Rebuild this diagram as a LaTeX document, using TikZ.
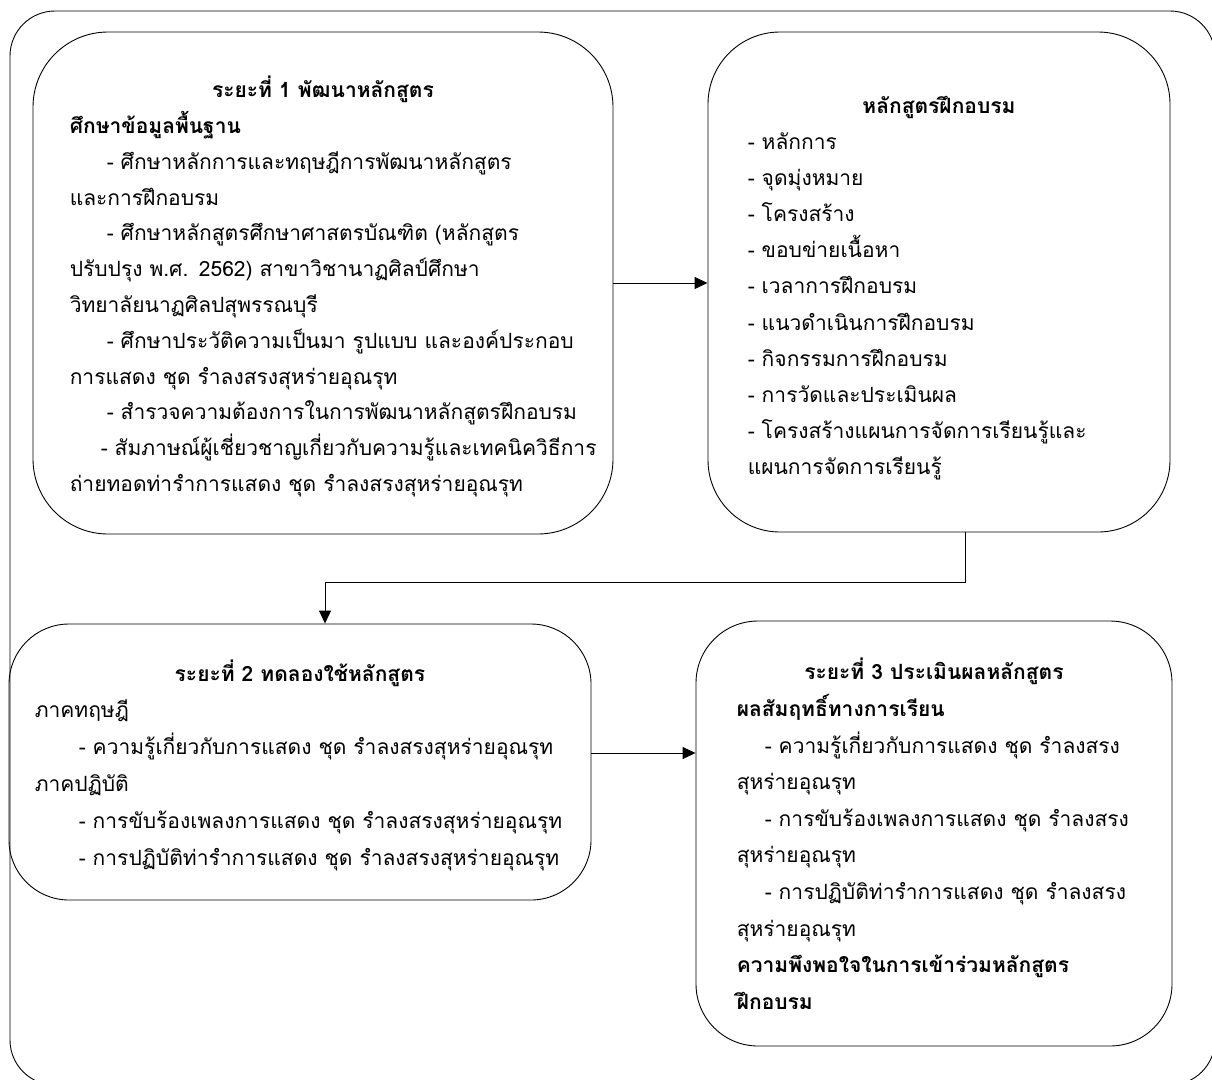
\documentclass[tikz,border=0pt]{standalone}
\usepackage{fontspec}
\setmainfont{Loma}[Script=Thai]
\usetikzlibrary{arrows.meta,positioning}

\tikzset{
  stage/.style={draw, line width=0.9pt, inner sep=0pt},
  heading/.style={anchor=base, inner sep=0pt, font=\fontsize{21}{24}\selectfont\bfseries},
  body/.style={anchor=base west, inner sep=0pt, align=left, text width=560pt,
    font=\fontsize{21}{#1}\selectfont},
  flow/.style={line width=0.9pt, -{Triangle[length=13pt,width=12pt]}},
}

\begin{document}
\begin{tikzpicture}[x=1pt,y=-1pt]
\useasboundingbox (0,0) rectangle (1212,1079);

% outer frame
\draw[line width=0.9pt, rounded corners=45pt] (10,11) rectangle (1215,1085);

% the four stages
\node[stage, rounded corners=75pt, minimum width=580pt, minimum height=502pt] (b1) at (323,283) {};
\node[stage, rounded corners=72pt, minimum width=462pt, minimum height=500pt] (b2) at (939,282) {};
\node[stage, rounded corners=60pt, minimum width=582pt, minimum height=276pt] (b3) at (300,762) {};
\node[stage, rounded corners=62pt, minimum width=476pt, minimum height=425pt] (b4) at (934,833.5) {};

% stage 1
\node[heading] (t1) at ([yshift=-66pt]b1.north) {ระยะที่ 1 พัฒนาหลักสูตร};
\node[body=35.8] (x1) at ([xshift=37pt,yshift=-102pt]b1.north west) {%
\textbf{ศึกษาข้อมูลพื้นฐาน}\\
\hspace*{37pt}- ศึกษาหลักการและทฤษฎีการพัฒนาหลักสูตร\\
และการฝึกอบรม\\
\hspace*{37pt}- ศึกษาหลักสูตรศึกษาศาสตรบัณฑิต (หลักสูตร\\
ปรับปรุง พ.ศ. 2562) สาขาวิชานาฏศิลป์ศึกษา\\
วิทยาลัยนาฏศิลปสุพรรณบุรี\\
\hspace*{37pt}- ศึกษาประวัติความเป็นมา รูปแบบ และองค์ประกอบ\\
การแสดง ชุด รำลงสรงสุหร่ายอุณรุท\\
\hspace*{37pt}- สำรวจความต้องการในการพัฒนาหลักสูตรฝึกอบรม\\
\hspace*{31pt}- สัมภาษณ์ผู้เชี่ยวชาญเกี่ยวกับความรู้และเทคนิควิธีการ\\
ถ่ายทอดท่ารำการแสดง ชุด รำลงสรงสุหร่ายอุณรุท};

% training course
\node[heading] (t2) at ([yshift=-82pt]b2.north) {หลักสูตรฝึกอบรม};
\node[body=36.1] (x2) at ([xshift=40pt,yshift=-118pt]b2.north west) {%
- หลักการ\\
- จุดมุ่งหมาย\\
- โครงสร้าง\\
- ขอบข่ายเนื้อหา\\
- เวลาการฝึกอบรม\\
- แนวดำเนินการฝึกอบรม\\
- กิจกรรมการฝึกอบรม\\
- การวัดและประเมินผล\\
- โครงสร้างแผนการจัดการเรียนรู้และ\\
แผนการจัดการเรียนรู้};

% stage 2
\node[heading] (t3) at ([yshift=-58pt]b3.north) {ระยะที่ 2 ทดลองใช้หลักสูตร};
\node[body=37] (x3) at ([xshift=26pt,yshift=-94pt]b3.north west) {%
ภาคทฤษฎี\\
\hspace*{44pt}- ความรู้เกี่ยวกับการแสดง ชุด รำลงสรงสุหร่ายอุณรุท\\
ภาคปฏิบัติ\\
\hspace*{44pt}- การขับร้องเพลงการแสดง ชุด รำลงสรงสุหร่ายอุณรุท\\
\hspace*{44pt}- การปฏิบัติท่ารำการแสดง ชุด รำลงสรงสุหร่ายอุณรุท};

% stage 3
\node[heading] (t4) at ([yshift=-59pt]b4.north) {ระยะที่ 3 ประเมินผลหลักสูตร};
\node[body=36.6] (x4) at ([xshift=41pt,yshift=-96pt]b4.north west) {%
\textbf{ผลสัมฤทธิ์ทางการเรียน}\\
\hspace*{28pt}- ความรู้เกี่ยวกับการแสดง ชุด รำลงสรง\\
สุหร่ายอุณรุท\\
\hspace*{28pt}- การขับร้องเพลงการแสดง ชุด รำลงสรง\\
สุหร่ายอุณรุท\\
\hspace*{28pt}- การปฏิบัติท่ารำการแสดง ชุด รำลงสรง\\
สุหร่ายอุณรุท\\
\textbf{ความพึงพอใจในการเข้าร่วมหลักสูตร}\\
\textbf{ฝึกอบรม}};

% connectors
\coordinate (turn) at (325,582);
\draw[flow] (b1.east) -- (b1.east -| b2.west);
\draw[flow] ([xshift=26pt]b2.south) |- (turn) -- (turn |- b3.north);
\draw[flow] ([yshift=9pt]b3.east) -- ([yshift=9pt]b3.east -| b4.west);
\end{tikzpicture}
\end{document}
